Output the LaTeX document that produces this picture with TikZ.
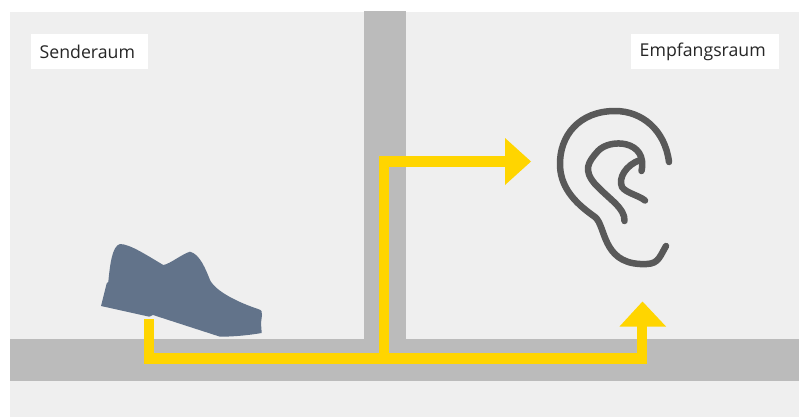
\documentclass[tikz,border=0pt]{standalone}
\usepackage{fontspec}
\setmainfont{Open Sans}
\definecolor{raumgrau}{HTML}{EFEFEF}
\definecolor{wandgrau}{HTML}{BBBBBB}
\definecolor{schallgelb}{HTML}{FFD500}
\definecolor{schuhblau}{HTML}{62738A}
\definecolor{ohrgrau}{HTML}{595959}
\tikzset{
  raumlabel/.style={fill=white,anchor=west,align=left,inner ysep=0pt,inner xsep=8.5pt,minimum height=35pt,font=\fontsize{17.7}{20}\selectfont,text=black!85},
  schallweg/.style={draw=schallgelb,line width=10.5pt},
  ohrlinie/.style={draw=ohrgrau,line width=6.5pt,line cap=round,line join=round}
}
\begin{document}
\begin{tikzpicture}[x=1pt,y=-1pt]

\useasboundingbox
(0,0)
rectangle
(805,417);

\fill[raumgrau]
(10,12)
rectangle
(799,417);

\fill[wandgrau]
(364,11)
rectangle
(406,339);

\fill[wandgrau]
(10,339)
rectangle
(799,381);

\node[raumlabel,text width=100pt]
(sender)
at (31,51.5)
{Senderaum};

\node[raumlabel,text width=131pt]
(empfang)
at (631,51.5)
{Empfangsraum};

\fill[schuhblau]
(101,306)
-- (106.7,283.3)
-- (108.3,281.7)
.. controls (110,265) and (112,246) .. (120,244)
.. controls (130,244) and (148,256) .. (163.3,265)
.. controls (170,264) and (182,254) .. (190,251.7)
.. controls (200,254) and (206,270) .. (210,280)
.. controls (216,292) and (240,303) .. (258,309)
.. controls (262,310) and (262,312) .. (262,315)
-- (261,323)
-- (261.7,333)
.. controls (250,335) and (235,336.7) .. (220,336.7)
-- (153,315)
-- (149.3,316.7)
-- cycle;

\coordinate (start) at (149,319);
\coordinate (knoten) at (384,358.5);
\coordinate (eck) at (642,358.5);

\draw[schallweg]
(start)
|- (eck)
-- (642,320);

\draw[schallweg]
(knoten)
|- (510,161.5);

\fill[schallgelb]
(505,138)
-- (531,161.5)
-- (505,185)
-- cycle;

\fill[schallgelb]
(619.5,326.5)
-- (642.5,301.5)
-- (666,326.5)
-- cycle;

% Ohr
\draw[ohrlinie]
(669,162)
.. controls (665,130) and (642,111) .. (615,111)
.. controls (580,111) and (559,135) .. (560,166)
.. controls (561,190) and (578,205) .. (595,217)
.. controls (606,226) and (602,262) .. (640,264)
.. controls (658,265) and (658,260) .. (666,246);

\draw[ohrlinie]
(624.5,221)
.. controls (625,208) and (610,200) .. (595,184)
.. controls (583,170) and (588,162) .. (598,151)
.. controls (610,138) and (648,140) .. (641.5,171);

\draw[ohrlinie]
(640,160)
.. controls (626,165) and (618,178) .. (622,187)
.. controls (626,193) and (638,195) .. (645,200.5);

\end{tikzpicture}
\end{document}
